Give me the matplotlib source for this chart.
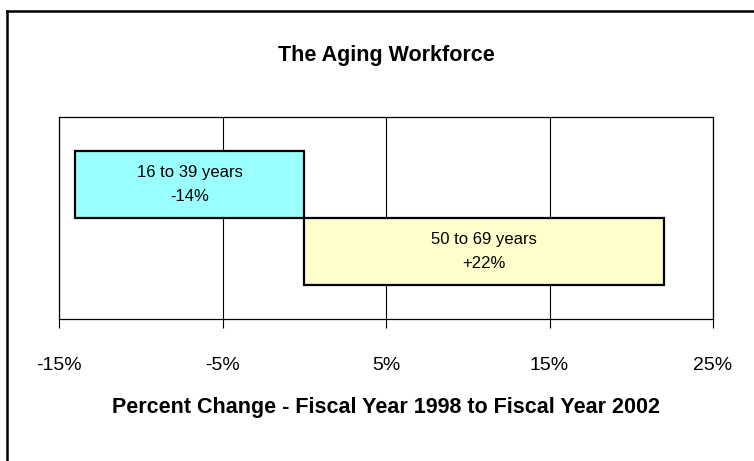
import matplotlib
matplotlib.use('Agg')
import matplotlib.pyplot as plt
from matplotlib.lines import Line2D
from matplotlib.ticker import FuncFormatter

# Dados do gráfico.
grupos = ['16 to 39 years', '50 to 69 years']
variacao = [-14, 22]
cores = ['#99ffff', '#ffffcc']
ticks_x = [-15, -5, 5, 15, 25]

plt.rcParams['font.family'] = ['Liberation Sans', 'DejaVu Sans']


def gera_grafico():
    fig = plt.figure(figsize=(7.54, 4.61), dpi=100)
    ax = fig.add_axes([59 / 754, 1 - 319 / 461, 654 / 754, 202 / 461])

    posicoes = list(range(len(grupos)))
    ax.barh(posicoes, variacao, height=1.0, color=cores, edgecolor='black',
            linewidth=1.6, zorder=3)

    # Rótulos dentro das barras.
    for pos, nome, valor in zip(posicoes, grupos, variacao):
        sinal = '+' if valor > 0 else ''
        ax.text(valor / 2, pos, f'{nome}\n{sinal}{valor}%', ha='center', va='center',
                fontsize=12, linespacing=1.75, zorder=4)

    ax.set_xlim(-15, 25)
    ax.set_ylim(2, -1)
    ax.set_xticks(ticks_x)
    ax.xaxis.set_major_formatter(FuncFormatter(lambda v, _: f'{v:.0f}%'))
    ax.set_yticks([])
    ax.grid(axis='x', color='black', linewidth=0.8, zorder=0)
    ax.tick_params(axis='x', length=6.5, width=0.8, pad=21, labelsize=14)
    for lado in ['top', 'right', 'left', 'bottom']:
        ax.spines[lado].set_linewidth(0.9)

    fig.text(386 / 754, 1 - 61 / 461, 'The Aging Workforce', ha='center', va='baseline',
             fontsize=15.5, fontweight='bold')
    fig.text(386 / 754, 1 - 413 / 461, 'Percent Change - Fiscal Year 1998 to Fiscal Year 2002',
             ha='center', va='baseline', fontsize=15.5, fontweight='bold')

    # Moldura externa (somente topo e esquerda aparecem).
    fig.add_artist(Line2D([7 / 754, 1], [1 - 11 / 461] * 2, color='black', linewidth=1.8,
                          transform=fig.transFigure))
    fig.add_artist(Line2D([7 / 754] * 2, [0, 1 - 11 / 461], color='black', linewidth=1.8,
                          transform=fig.transFigure))

    fig.savefig('out.png', dpi=100, facecolor='white')


def main():
    gera_grafico()


if __name__ == '__main__':
    main()
